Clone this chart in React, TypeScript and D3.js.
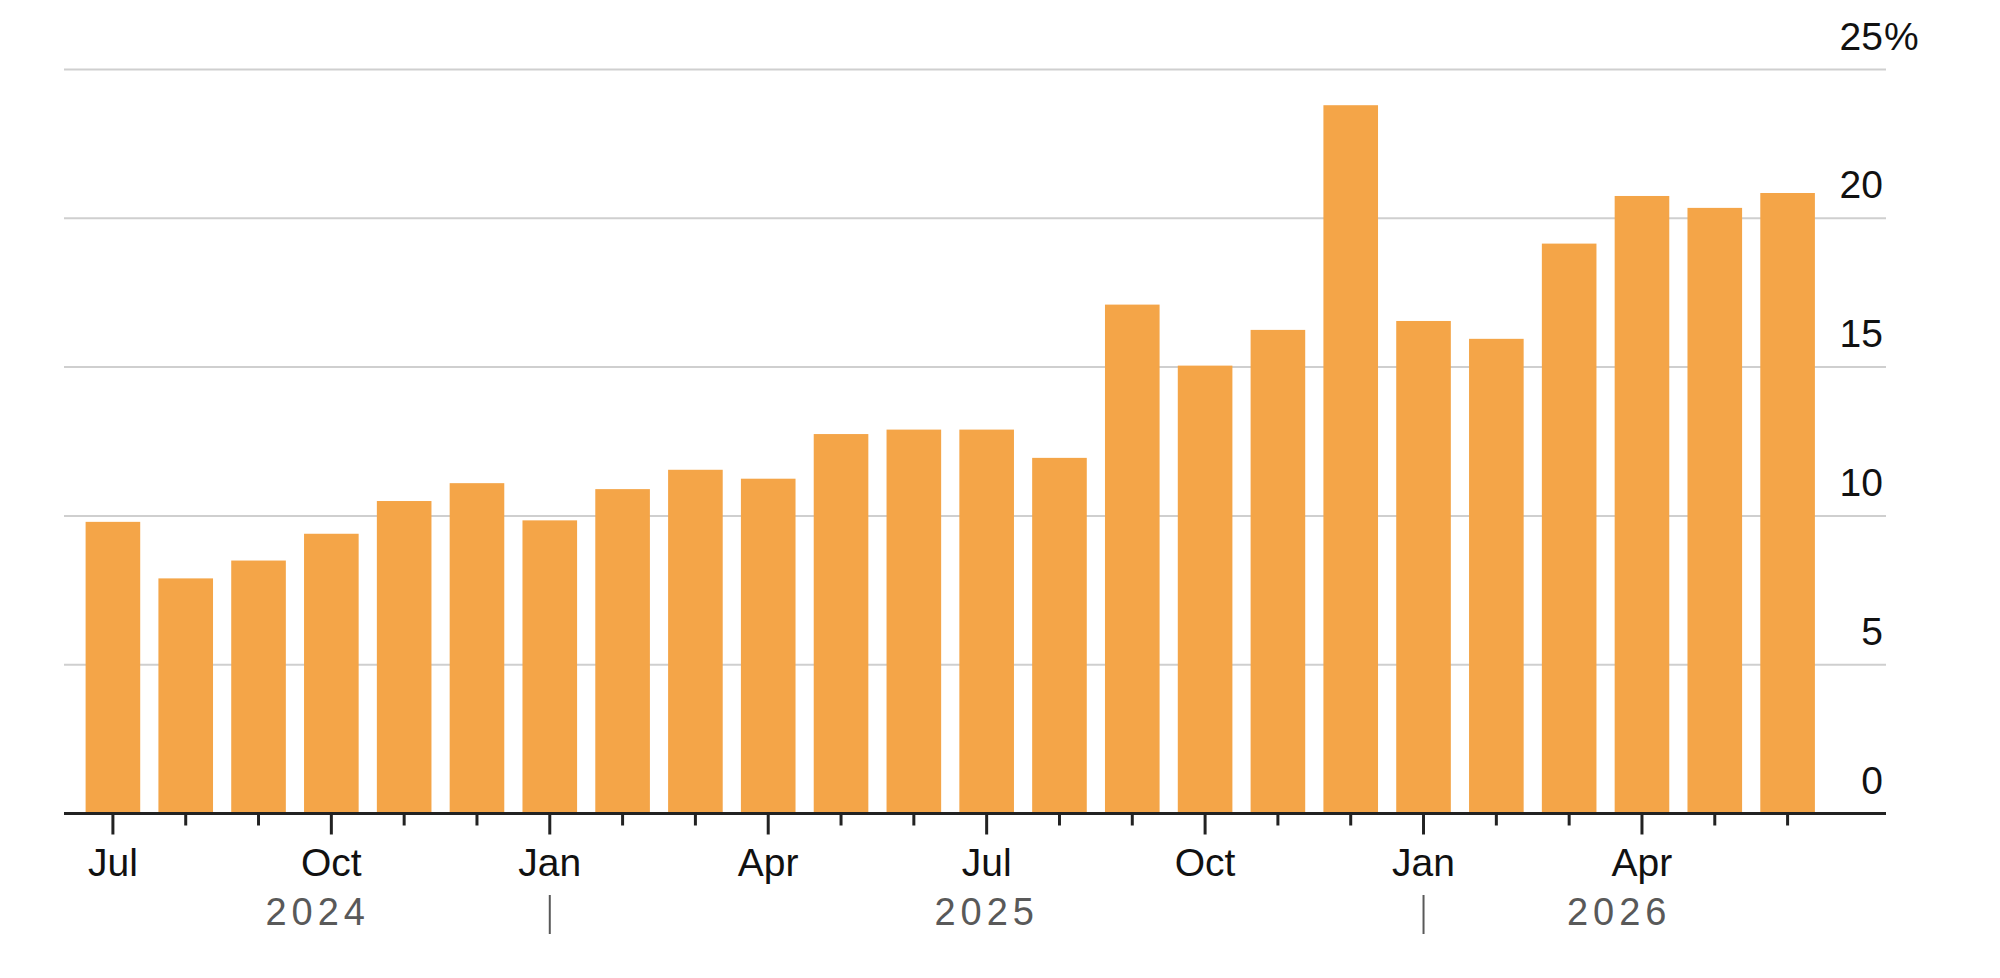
import React, { useRef, useEffect } from 'react';
import * as d3 from 'd3';

// Monthly values, Jul 2024 - Jun 2026 (%)
const months: string[] = [
  '2024-07', '2024-08', '2024-09', '2024-10', '2024-11', '2024-12',
  '2025-01', '2025-02', '2025-03', '2025-04', '2025-05', '2025-06',
  '2025-07', '2025-08', '2025-09', '2025-10', '2025-11', '2025-12',
  '2026-01', '2026-02', '2026-03', '2026-04', '2026-05', '2026-06',
];
const values: number[] = [
  9.8, 7.9, 8.5, 9.4, 10.5, 11.1,
  9.85, 10.9, 11.55, 11.25, 12.75, 12.9,
  12.9, 11.95, 17.1, 15.05, 16.25, 23.8,
  16.55, 15.95, 19.15, 20.75, 20.35, 20.85,
];
const yTicks: number[] = [0, 5, 10, 15, 20, 25];
const monthNames: string[] = ['Jan', 'Feb', 'Mar', 'Apr', 'May', 'Jun', 'Jul', 'Aug', 'Sep', 'Oct', 'Nov', 'Dec'];

const width = 2000;
const height = 978;
const FONT = '"Liberation Sans", Arial, Helvetica, sans-serif';

const App: React.FC = () => {
  const svgRef = useRef<SVGSVGElement | null>(null);

  useEffect(() => {
    const svg = d3.select(svgRef.current);
    svg.selectAll('*').remove();

    const axisLeft = 64;
    const axisRight = 1886;
    const labelRight = 1883;

    const x = d3.scaleBand<string>()
      .domain(months)
      .range([76.5, 1824])
      .paddingInner(0.25)
      .paddingOuter(0.125);
    const y = d3.scaleLinear().domain([0, 25]).range([813.5, 69.5]);

    // Gridlines
    svg.append('g')
      .selectAll('line')
      .data(yTicks.filter(t => t > 0))
      .enter()
      .append('line')
      .attr('x1', axisLeft)
      .attr('x2', axisRight)
      .attr('y1', d => y(d))
      .attr('y2', d => y(d))
      .attr('stroke', '#cfcfcf')
      .attr('stroke-width', 2);

    // Y labels
    const yl = svg.append('g')
      .attr('font-family', FONT)
      .attr('font-size', 39)
      .attr('fill', '#111');
    yl.selectAll('text')
      .data(yTicks)
      .enter()
      .append('text')
      .attr('x', labelRight)
      .attr('y', d => y(d) - 20)
      .attr('text-anchor', 'end')
      .text(d => String(d));
    yl.append('text')
      .attr('x', labelRight + 1)
      .attr('y', y(25) - 20)
      .text('%');

    // Bars
    svg.append('g')
      .selectAll('rect')
      .data(months)
      .enter()
      .append('rect')
      .attr('x', d => x(d) as number)
      .attr('width', x.bandwidth())
      .attr('y', (d, i) => y(values[i]))
      .attr('height', (d, i) => y(0) - y(values[i]))
      .attr('fill', '#f4a548');

    // Baseline
    svg.append('line')
      .attr('x1', axisLeft)
      .attr('x2', axisRight)
      .attr('y1', y(0))
      .attr('y2', y(0))
      .attr('stroke', '#222')
      .attr('stroke-width', 3);

    const center = (m: string) => (x(m) as number) + x.bandwidth() / 2;
    const monthIdx = (m: string) => Number(m.slice(5)) - 1;
    const isQuarter = (m: string) => monthIdx(m) % 3 === 0;

    // Month ticks
    svg.append('g')
      .selectAll('line')
      .data(months)
      .enter()
      .append('line')
      .attr('x1', center)
      .attr('x2', center)
      .attr('y1', y(0))
      .attr('y2', d => y(0) + (isQuarter(d) ? 21 : 12))
      .attr('stroke', '#222')
      .attr('stroke-width', 3);

    // Month labels
    svg.append('g')
      .selectAll('text')
      .data(months.filter(isQuarter))
      .enter()
      .append('text')
      .attr('x', center)
      .attr('y', 876)
      .attr('text-anchor', 'middle')
      .attr('font-family', FONT)
      .attr('font-size', 39)
      .attr('fill', '#111')
      .text(d => monthNames[monthIdx(d)]);

    // Year labels and separators
    const years = Array.from(new Set(months.map(m => m.slice(0, 4))));
    const jans = months.filter(m => monthIdx(m) === 0);
    const rangeStart = x(months[0]) as number;
    const rangeEnd = (x(months[months.length - 1]) as number) + x.bandwidth();

    svg.append('g')
      .selectAll('line')
      .data(jans)
      .enter()
      .append('line')
      .attr('x1', center)
      .attr('x2', center)
      .attr('y1', 895)
      .attr('y2', 934)
      .attr('stroke', '#595959')
      .attr('stroke-width', 2);

    svg.append('g')
      .selectAll('text')
      .data(years)
      .enter()
      .append('text')
      .attr('x', yr => {
        const jan = months.find(m => m === `${yr}-01`);
        const next = months.find(m => m === `${Number(yr) + 1}-01`);
        const start = jan ? center(jan) : rangeStart;
        const end = next ? center(next) : rangeEnd;
        return (start + end) / 2;
      })
      .attr('y', 925)
      .attr('text-anchor', 'middle')
      .attr('font-family', FONT)
      .attr('font-size', 38)
      .attr('letter-spacing', 5)
      .attr('fill', '#595959')
      .text(yr => yr);
  }, []);

  return (
    <svg
      ref={svgRef}
      width={width}
      height={height}
      style={{ position: 'absolute', left: 0, top: 0, background: '#fff' }}
    />
  );
};

export default App;
